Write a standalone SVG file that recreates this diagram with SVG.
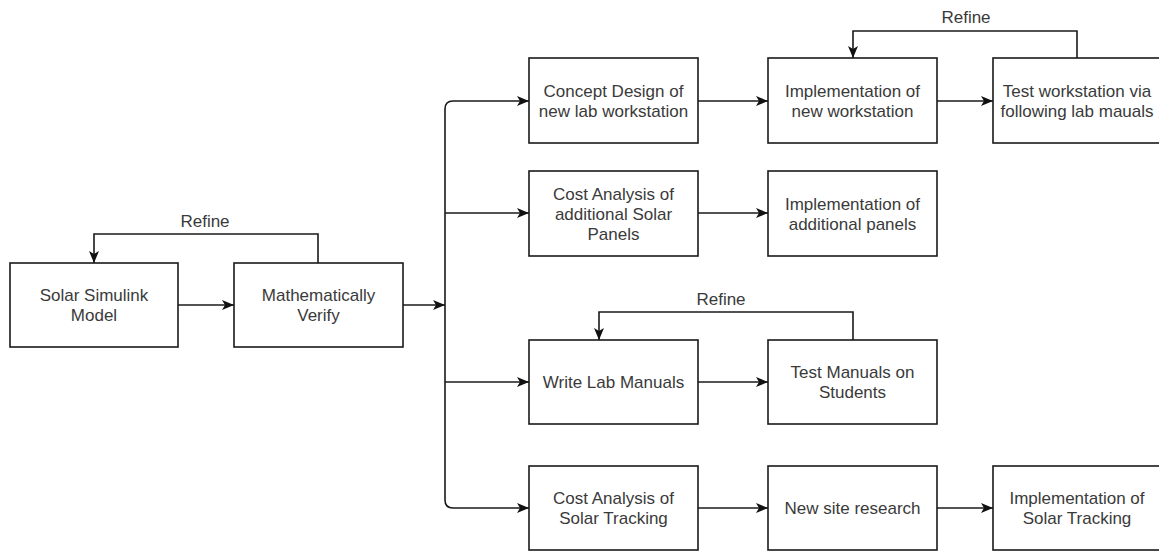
<svg xmlns="http://www.w3.org/2000/svg" width="1159" height="552" viewBox="0 0 1159 552">
<style>
.box{fill:#fff;stroke:#1a1a1a;stroke-width:1.6}
.t{font-family:"Liberation Sans",Arial,sans-serif;font-size:17px;fill:#3a3a3a;text-anchor:middle}
.c{fill:none;stroke:#1a1a1a;stroke-width:1.6}
</style>
<defs>
<marker id="ah" markerUnits="userSpaceOnUse" markerWidth="13" markerHeight="11" refX="12" refY="5" orient="auto">
<path d="M0,0 L12,5 L0,10 L3,5 Z" fill="#111"/>
</marker>
</defs>
<rect width="1159" height="552" fill="#fff"/>
<g id="connectors">
<path class="c" d="M178 305 H234" marker-end="url(#ah)"/>
<path class="c" d="M403 305 H445" marker-end="url(#ah)"/>
<path class="c" d="M318 263 V234 H94 V263" marker-end="url(#ah)"/>
<path class="c" d="M445 305 V109 Q445 101 453 101 H529" marker-end="url(#ah)"/>
<path class="c" d="M445 305 V500 Q445 508 453 508 H529" marker-end="url(#ah)"/>
<path class="c" d="M445 213 H529" marker-end="url(#ah)"/>
<path class="c" d="M445 382 H529" marker-end="url(#ah)"/>
<path class="c" d="M698 101 H768" marker-end="url(#ah)"/>
<path class="c" d="M937 101 H993" marker-end="url(#ah)"/>
<path class="c" d="M1077 58 V31 H853 V58" marker-end="url(#ah)"/>
<path class="c" d="M698 213 H768" marker-end="url(#ah)"/>
<path class="c" d="M698 382 H768" marker-end="url(#ah)"/>
<path class="c" d="M853 340 V312 H599 V340" marker-end="url(#ah)"/>
<path class="c" d="M698 508 H768" marker-end="url(#ah)"/>
<path class="c" d="M937 508 H993" marker-end="url(#ah)"/>
<text class="t" x="205" y="227">Refine</text>
<text class="t" x="966" y="23">Refine</text>
<text class="t" x="721" y="305">Refine</text>
</g>
<g id="n-simulink">
<rect class="box" x="10" y="263" width="168" height="84"/>
<text class="t" x="94" y="301">Solar Simulink</text>
<text class="t" x="94" y="321">Model</text>
</g>
<g id="n-verify">
<rect class="box" x="234" y="263" width="169" height="84"/>
<text class="t" x="318.5" y="301">Mathematically</text>
<text class="t" x="318.5" y="321">Verify</text>
</g>
<g id="n-concept">
<rect class="box" x="529" y="58" width="169" height="85"/>
<text class="t" x="613.5" y="97">Concept Design of</text>
<text class="t" x="613.5" y="117">new lab workstation</text>
</g>
<g id="n-impl-ws">
<rect class="box" x="768" y="58" width="169" height="85"/>
<text class="t" x="852.5" y="97">Implementation of</text>
<text class="t" x="852.5" y="117">new workstation</text>
</g>
<g id="n-test-ws">
<rect class="box" x="993" y="58" width="169" height="85"/>
<text class="t" x="1077" y="97">Test workstation via</text>
<text class="t" x="1077" y="117">following lab mauals</text>
</g>
<g id="n-cost-panels">
<rect class="box" x="529" y="171" width="169" height="85"/>
<text class="t" x="613.5" y="199.5">Cost Analysis of</text>
<text class="t" x="613.5" y="219.5">additional Solar</text>
<text class="t" x="613.5" y="239.5">Panels</text>
</g>
<g id="n-impl-panels">
<rect class="box" x="768" y="171" width="169" height="85"/>
<text class="t" x="852.5" y="209.5">Implementation of</text>
<text class="t" x="852.5" y="229.5">additional panels</text>
</g>
<g id="n-write">
<rect class="box" x="529" y="340" width="169" height="84"/>
<text class="t" x="613.5" y="388">Write Lab Manuals</text>
</g>
<g id="n-test-manuals">
<rect class="box" x="768" y="340" width="169" height="84"/>
<text class="t" x="852.5" y="378">Test Manuals on</text>
<text class="t" x="852.5" y="398">Students</text>
</g>
<g id="n-cost-tracking">
<rect class="box" x="529" y="466" width="169" height="84"/>
<text class="t" x="613.5" y="504">Cost Analysis of</text>
<text class="t" x="613.5" y="524">Solar Tracking</text>
</g>
<g id="n-site">
<rect class="box" x="768" y="466" width="169" height="84"/>
<text class="t" x="852.5" y="514">New site research</text>
</g>
<g id="n-impl-tracking">
<rect class="box" x="993" y="466" width="169" height="84"/>
<text class="t" x="1077" y="504">Implementation of</text>
<text class="t" x="1077" y="524">Solar Tracking</text>
</g>
</svg>
